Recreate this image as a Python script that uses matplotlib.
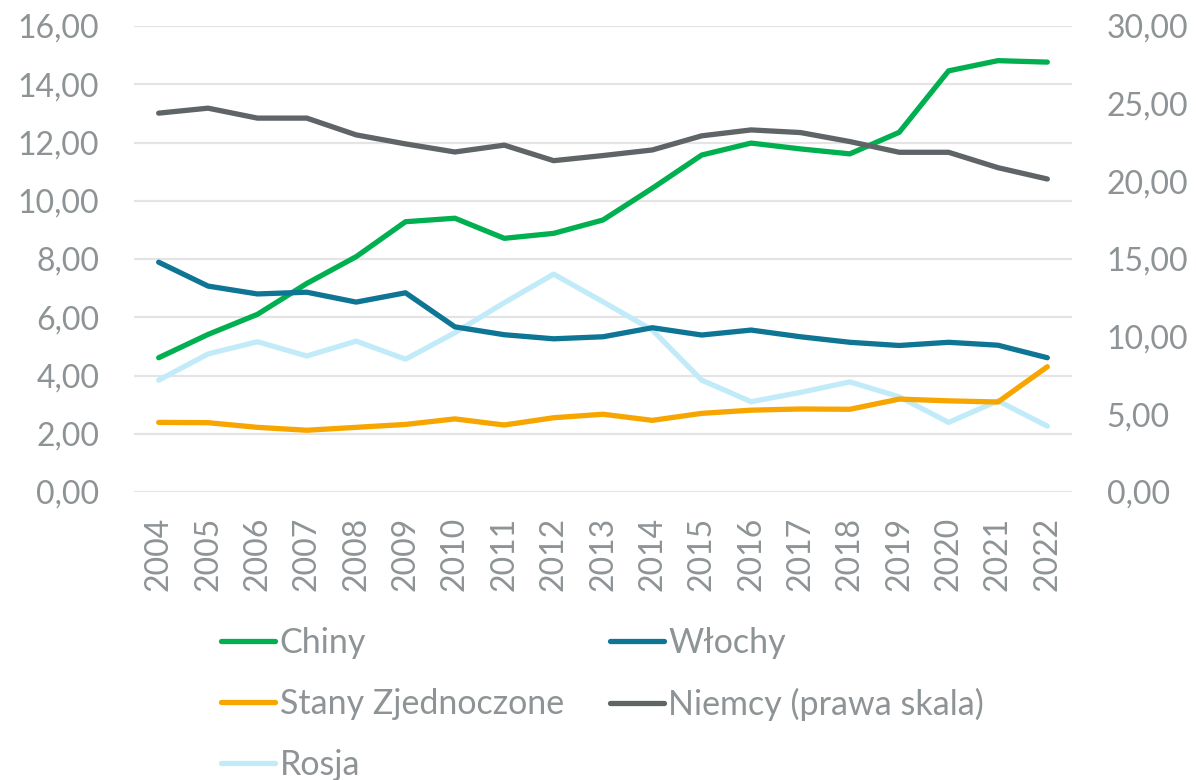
import matplotlib
matplotlib.use("Agg")
import matplotlib.pyplot as plt
import numpy as np

years = [str(y) for y in range(2004, 2023)]
chiny = [4.61, 5.41, 6.10, 7.16, 8.08, 9.28, 9.40, 8.71, 8.88, 9.34, 10.43, 11.57, 11.98, 11.78, 11.61, 12.35, 14.46, 14.81, 14.76]
wlochy = [7.89, 7.07, 6.80, 6.86, 6.52, 6.84, 5.67, 5.40, 5.26, 5.33, 5.64, 5.39, 5.56, 5.33, 5.14, 5.03, 5.14, 5.04, 4.61]
usa = [2.39, 2.38, 2.22, 2.12, 2.22, 2.32, 2.51, 2.30, 2.55, 2.67, 2.46, 2.70, 2.81, 2.85, 2.84, 3.19, 3.13, 3.09, 4.30]
rosja = [3.84, 4.74, 5.16, 4.67, 5.18, 4.56, 5.47, 6.50, 7.48, 6.53, 5.56, 3.84, 3.10, 3.42, 3.78, 3.27, 2.39, 3.13, 2.26]
niemcy = [24.39, 24.71, 24.07, 24.07, 22.99, 22.41, 21.89, 22.33, 21.33, 21.66, 22.02, 22.93, 23.31, 23.14, 22.56, 21.87, 21.87, 20.88, 20.15]

left_ticks = [0, 2, 4, 6, 8, 10, 12, 14, 16]
right_ticks = [0, 5, 10, 15, 20, 25, 30]

plt.rcParams['font.family'] = ['Lato', 'DejaVu Sans']
tick_color = '#8E9396'
fs = 23
lfs = 24.5

fig = plt.figure(figsize=(11.96, 7.8), dpi=100)
ax = fig.add_axes([134/1196, 1-492/780, (1072-134)/1196, (492-26)/780])
ax2 = ax.twinx()

x = np.arange(len(years))
lw = 3.8
l_ch, = ax.plot(x, chiny, color='#00B050', lw=lw, solid_capstyle='round', label='Chiny', zorder=3)
l_wl, = ax.plot(x, wlochy, color='#0E7595', lw=lw, solid_capstyle='round', label='Włochy', zorder=3)
l_us, = ax.plot(x, usa, color='#F7A600', lw=lw, solid_capstyle='round', label='Stany Zjednoczone', zorder=3)
l_ru, = ax.plot(x, rosja, color='#C2EBF9', lw=lw, solid_capstyle='round', label='Rosja', zorder=2)
l_de, = ax2.plot(x, niemcy, color='#5F6467', lw=lw, solid_capstyle='round', label='Niemcy (prawa skala)')

ax.set_xlim(-0.5, 18.5)
ax.set_ylim(0, 16)
ax2.set_ylim(0, 30)
ax.set_yticks(left_ticks)
ax.set_yticklabels([f"{v:.2f}".replace('.', ',') for v in left_ticks])
ax2.set_yticks(right_ticks)
ax2.set_yticklabels([f"{v:.2f}".replace('.', ',') for v in right_ticks])
ax.set_xticks(x)
ax.set_xticklabels(years, rotation=90)

ax.grid(axis='y', color='#E4E4E4', lw=1.6)
ax.set_axisbelow(True)
for a in (ax, ax2):
    for s in a.spines.values():
        s.set_visible(False)
ax.tick_params(axis='y', length=0, pad=25, labelsize=fs, labelcolor=tick_color)
ax2.tick_params(axis='y', length=0, pad=25, labelsize=fs, labelcolor=tick_color)
ax.tick_params(axis='x', length=0, pad=18, labelsize=fs, labelcolor=tick_color)

handles = [l_ch, l_us, l_ru, l_wl, l_de]
leg = fig.legend(handles=handles, labels=[h.get_label() for h in handles], ncol=2,
                 loc='upper left', bbox_to_anchor=(221/1196, 1-627/780),
                 frameon=False, fontsize=lfs, handlelength=1.6, handletextpad=0.12,
                 columnspacing=1.35, labelspacing=0.85, borderaxespad=0, borderpad=0)
for t in leg.get_texts():
    t.set_color(tick_color)
for lh in leg.get_lines():
    lh.set_linewidth(lw)

fig.savefig('out.png', dpi=100)
